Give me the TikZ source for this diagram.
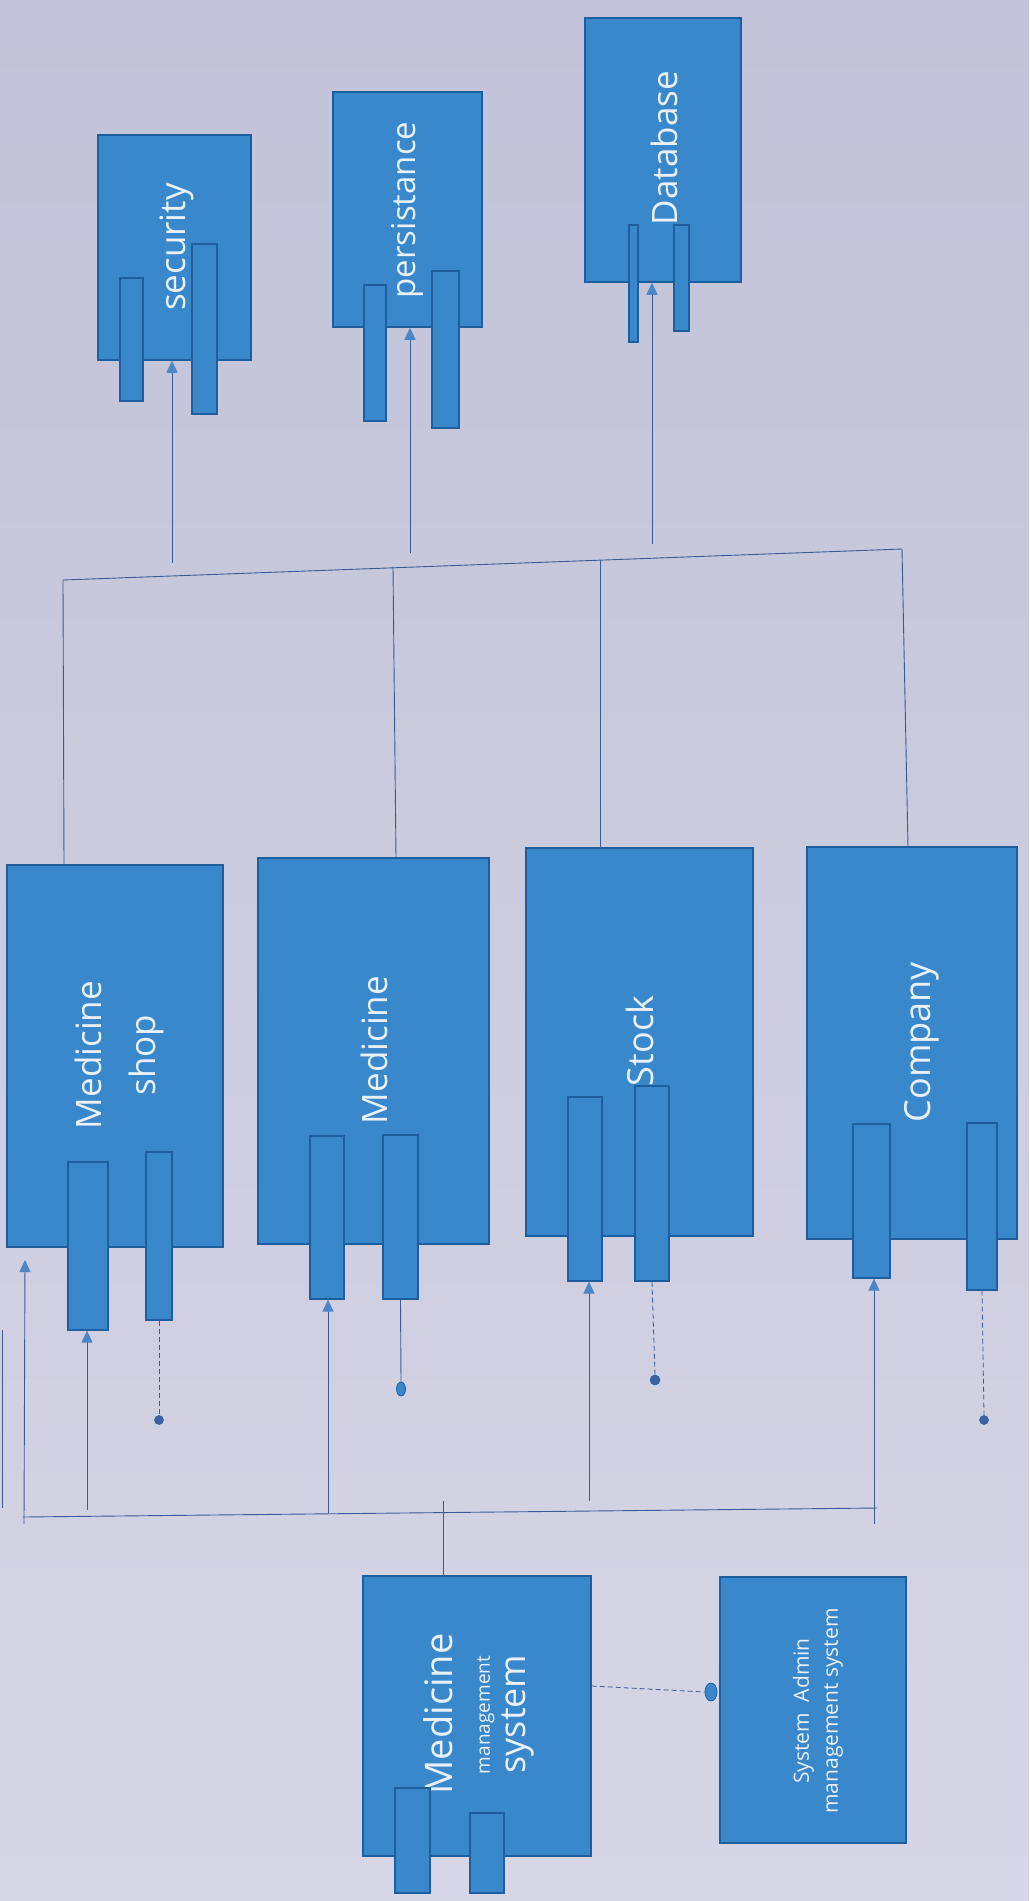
\documentclass[tikz,border=0pt]{standalone}
\usepackage{fontspec}
\setmainfont{Open Sans}
\usetikzlibrary{arrows.meta,shapes.geometric}
\definecolor{bgtop}{HTML}{C2C2D8}
\definecolor{bgbot}{HTML}{D6D6E6}
\definecolor{boxfill}{HTML}{3A88CC}
\definecolor{boxline}{HTML}{1D5E9E}
\definecolor{wire}{HTML}{3C5A94}
\definecolor{tipfill}{HTML}{4A86C8}
\definecolor{txt}{HTML}{EAF0F8}
\tikzset{
  comp/.style={draw=boxline, line width=1.5pt, fill=boxfill, rectangle, inner sep=0pt},
  portbox/.style={draw=boxline, line width=1.2pt, fill=boxfill, rectangle, inner sep=0pt},
  lbl/.style={text=txt, rotate=90, inner sep=0pt, align=center},
  wireline/.style={draw=wire, line width=0.9pt},
  arr/.style={wireline, -{Triangle[length=12pt,width=11pt,fill=tipfill,color=tipfill]}},
  dashwire/.style={draw=wire, line width=0.8pt, dash pattern=on 5pt off 3pt},
  dotend/.style={circle, fill=wire!80!boxfill, draw=boxline, line width=0.5pt, inner sep=0pt, minimum size=8pt},
  ovalend/.style={ellipse, fill=boxfill, draw=boxline, line width=0.8pt, inner sep=0pt, minimum width=10pt, minimum height=16pt}
}
\begin{document}
\begin{tikzpicture}[x=1pt,y=-1pt]
\useasboundingbox (0,0) rectangle (1029,1901);
\shade[top color=bgtop, bottom color=bgbot] (0,0) rectangle (1029,1901);

% ---------- top components ----------
\node[comp, minimum width=153pt, minimum height=225pt] (sec) at (174.5,247.5) {};
\node[lbl, font=\fontsize{35}{42}\selectfont] (secT) at (177,247) {security};
\node[portbox, minimum width=23pt, minimum height=123pt] (secP1) at (131.5,339.5) {};
\node[portbox, minimum width=25pt, minimum height=170pt] (secP2) at (204.5,329) {};

\node[comp, minimum width=149pt, minimum height=235pt] (per) at (407.5,209.5) {};
\node[lbl, font=\fontsize{33}{40}\selectfont] (perT) at (407,210) {persistance};
\node[portbox, minimum width=22pt, minimum height=136pt] (perP1) at (375,353) {};
\node[portbox, minimum width=27pt, minimum height=157pt] (perP2) at (445.5,349.5) {};

\node[comp, minimum width=156pt, minimum height=264pt] (db) at (663,150) {};
\node[lbl, font=\fontsize{35}{42}\selectfont] (dbT) at (664,148) {Database};
\node[portbox, minimum width=9pt, minimum height=117pt] (dbP1) at (633.5,283.5) {};
\node[portbox, minimum width=15pt, minimum height=106pt] (dbP2) at (681.5,278) {};

% ---------- middle components ----------
\node[comp, minimum width=216pt, minimum height=382pt] (shop) at (115,1056) {};
\node[lbl, font=\fontsize{35}{54}\selectfont] (shopT) at (119,1055) {Medicine\\shop};
\node[portbox, minimum width=40pt, minimum height=168pt] (shopP1) at (88,1246) {};
\node[portbox, minimum width=26pt, minimum height=168pt] (shopP2) at (159,1236) {};

\node[comp, minimum width=231pt, minimum height=386pt] (med) at (373.5,1051) {};
\node[lbl, font=\fontsize{35}{42}\selectfont] (medT) at (374,1050) {Medicine};
\node[portbox, minimum width=34pt, minimum height=163pt] (medP1) at (327,1217.5) {};
\node[portbox, minimum width=35pt, minimum height=164pt] (medP2) at (400.5,1217) {};

\node[comp, minimum width=227pt, minimum height=388pt] (stock) at (639.5,1042) {};
\node[lbl, font=\fontsize{36}{42}\selectfont] (stockT) at (640,1041) {Stock};
\node[portbox, minimum width=34pt, minimum height=184pt] (stockP1) at (585,1189) {};
\node[portbox, minimum width=34pt, minimum height=195pt] (stockP2) at (652,1183.5) {};

\node[comp, minimum width=210pt, minimum height=392pt] (company) at (912,1043) {};
\node[lbl, font=\fontsize{36}{42}\selectfont] (companyT) at (922,1042) {Company};
\node[portbox, minimum width=37pt, minimum height=154pt] (companyP1) at (871.5,1201) {};
\node[portbox, minimum width=30pt, minimum height=167pt] (companyP2) at (982,1206.5) {};

% ---------- bottom components ----------
\node[comp, minimum width=228pt, minimum height=280pt] (mms) at (477,1716) {};
\node[lbl, font=\fontsize{38}{44}\selectfont] (mmsT1) at (438,1714) {Medicine};
\node[lbl, font=\fontsize{19}{22}\selectfont] (mmsT2) at (486,1715) {management};
\node[lbl, font=\fontsize{36}{42}\selectfont] (mmsT3) at (518,1714) {system};
\node[portbox, minimum width=35pt, minimum height=105pt] (mmsP1) at (412.5,1840.5) {};
\node[portbox, minimum width=34pt, minimum height=80pt] (mmsP2) at (487,1853) {};

\node[comp, minimum width=186pt, minimum height=266pt] (admin) at (813,1710) {};
\node[lbl, font=\fontsize{21}{29}\selectfont] (adminT) at (818,1711) {System\ \ Admin\\management system};

% ---------- top bus ----------
\coordinate (busTL) at (63,580);
\coordinate (busTR) at (902,549);
\draw[wireline] (busTL) -- (busTR);
\draw[wireline] (busTL) -- (64,865);
\coordinate (bm1) at (393,567);
\coordinate (bm2) at (600,560);
\draw[wireline] (bm1) -- (396,858);
\draw[wireline] (bm2) -- (600,848);
\draw[wireline] (busTR) -- (908,847);

\coordinate (secA) at (172,563);
\coordinate (perA) at (410,553);
\coordinate (dbA) at (652,544);
\draw[arr] (secA) -- (secA |- sec.south);
\draw[arr] (perA) -- (perA |- per.south);
\draw[arr] (dbA) -- (dbA |- db.south);

% ---------- bottom bus ----------
\coordinate (busBL) at (23,1517);
\coordinate (busBR) at (877,1508);
\draw[wireline] (busBL) -- (busBR);
\coordinate (leftA0) at (24,1524);
\coordinate (leftA1) at (25,1260);
\draw[arr] (leftA0) -- (leftA1);
\coordinate (shopA) at (87,1510);
\draw[arr] (shopA) -- (shopA |- shopP1.south);
\coordinate (medA) at (328,1513);
\draw[arr] (medA) -- (medA |- medP1.south);
\coordinate (stockA) at (589,1501);
\draw[arr] (stockA) -- (stockA |- stockP1.south);
\coordinate (companyA) at (874,1524);
\draw[arr] (companyA) -- (companyA |- companyP1.south);
\coordinate (mmsTop) at (443,1501);
\draw[wireline] (mmsTop) -- (mmsTop |- mms.north);

% edge line at far left
\coordinate (edge0) at (2,1330);
\coordinate (edge1) at (2,1508);
\draw[wireline] (edge0) -- (edge1);

% ---------- lollipops ----------
\node[dotend, minimum size=9pt] (shopL) at (159,1420) {};
\draw[dashwire] (shopP2.south) -- (shopL.north);
\node[ovalend, minimum width=9pt, minimum height=14pt] (medL) at (401,1389) {};
\draw[wireline] (medP2.south) -- (medL.north);
\node[dotend, minimum size=10pt] (stockL) at (655,1380) {};
\draw[dashwire] (stockP2.south) -- (stockL.north);
\node[dotend, minimum size=9pt] (companyL) at (984,1420) {};
\draw[dashwire] (companyP2.south) -- (companyL.north);

\node[ovalend, minimum width=12pt, minimum height=18pt] (adminL) at (711,1692) {};
\draw[dashwire] (mms.east |- 0,1686) -- (adminL.west);
\end{tikzpicture}
\end{document}
